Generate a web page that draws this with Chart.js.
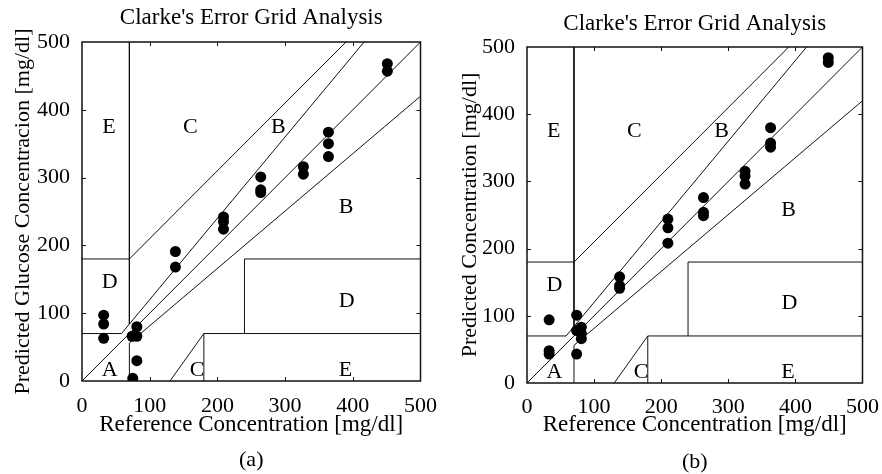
<!DOCTYPE html>
<html><head><meta charset="utf-8">
<script src="https://cdn.jsdelivr.net/npm/chart.js@4/dist/chart.umd.min.js"></script>
<style>
html,body{margin:0;padding:0;background:#fff;overflow:hidden}
#wrap{position:relative;width:882px;height:474px;background:#fff}
canvas{position:absolute;top:0}
</style></head><body>
<div id="wrap">
<canvas id="ca" width="441" height="474" style="left:0"></canvas>
<canvas id="cb" width="441" height="474" style="left:441px"></canvas>
</div>
<script>
// ---------- text ----------
const chartTitle = "Clarke's Error Grid Analysis";
const xAxisLabel = "Reference Concentration [mg/dl]";
const yAxisLabelA = "Predicted Glucose Concentracion [mg/dl]";
const yAxisLabelB = "Predicted Concentration [mg/dl]";
const panelLabels = ["(a)", "(b)"];
const axisMin = 0, axisMax = 500, tickStep = 100;

// ---------- data: panel (a) ----------
const refA  = [32, 32, 32, 74, 81, 81, 81, 75, 138, 138, 209, 209, 209, 264, 264, 264, 327, 327, 364, 364, 364, 451, 451];
const predA = [97, 84, 63, 66, 80, 66, 30,  4, 191, 168, 242, 235, 224, 301, 282, 278, 316, 305, 367, 350, 331, 468, 457];

// ---------- data: panel (b) ----------
const refB  = [33, 33, 33, 74, 74, 74, 81, 81, 81, 138, 138, 138, 210, 210, 210, 263, 263, 263, 325, 325, 325, 363, 363, 363, 449, 449];
const predB = [94, 48, 43, 101, 78, 43, 83, 74, 66, 158, 145, 141, 244, 231, 208, 276, 254, 249, 315, 308, 296, 380, 357, 351, 484, 477];

// ---------- Clarke error grid zone boundaries (mg/dl) ----------
const zoneBoundaries = [
  [[0, 0], [500, 500]],
  [[0, 70], [58.33, 70], [416.67, 500]],
  [[70, 500], [70, 84]],
  [[0, 180], [70, 180], [390, 500]],
  [[70, 0], [70, 56], [500, 420]],
  [[130, 0], [180, 70], [500, 70]],
  [[180, 0], [180, 70]],
  [[240, 70], [240, 180], [500, 180]]
];
const zoneNames = ["E", "C", "B", "B", "D", "D", "A", "C", "E"];
const zoneNameRef  = [40, 160, 290, 390, 41, 391, 41, 170, 389];
const zoneNamePred = [375, 375, 375, 257, 146, 118, 16, 16, 16];

const FONT = "'Liberation Serif', 'Times New Roman', serif";

const decor = {
  id: 'decor',
  afterDatasetsDraw(chart, args, o) {
    const {ctx, chartArea: a, scales: {x, y}} = chart;
    ctx.save();
    ctx.fillStyle = '#000';
    ctx.font = '22px ' + FONT;
    ctx.textAlign = 'center';
    ctx.textBaseline = 'middle';
    zoneNames.forEach((t, i) => {
      ctx.fillText(t, x.getPixelForValue(zoneNameRef[i]), y.getPixelForValue(zoneNamePred[i]));
    });
    // frame
    ctx.strokeStyle = '#111';
    ctx.lineWidth = 1.5;
    ctx.strokeRect(a.left, a.top, a.right - a.left, a.bottom - a.top);
    // inward tick marks
    ctx.lineWidth = 1;
    ctx.beginPath();
    x.ticks.forEach(t => {
      if (t.value <= axisMin || t.value >= axisMax) return;
      const px = Math.round(x.getPixelForValue(t.value)) + 0.5;
      ctx.moveTo(px, a.bottom); ctx.lineTo(px, a.bottom - 4);
      ctx.moveTo(px, a.top); ctx.lineTo(px, a.top + 4);
    });
    y.ticks.forEach(t => {
      if (t.value <= axisMin || t.value >= axisMax) return;
      const py = Math.round(y.getPixelForValue(t.value)) + 0.5;
      ctx.moveTo(a.left, py); ctx.lineTo(a.left + 4, py);
      ctx.moveTo(a.right, py); ctx.lineTo(a.right - 4, py);
    });
    ctx.stroke();
    // title and panel label
    const cx = (a.left + a.right) / 2;
    ctx.textBaseline = 'alphabetic';
    ctx.font = '23px ' + FONT;
    ctx.fillText(o.title, cx, o.titleY);
    ctx.font = '22px ' + FONT;
    ctx.fillText(o.panel, cx, o.panelY);
    ctx.restore();
  }
};

function makeChart(id, ref, pred, yLabel, panel, geo) {
  const datasets = zoneBoundaries.map(seg => ({
    type: 'scatter',
    data: seg.map(p => ({x: p[0], y: p[1]})),
    showLine: true,
    borderColor: '#111',
    borderWidth: 1,
    pointRadius: 0,
    fill: false,
    order: 2
  }));
  datasets.push({
    type: 'scatter',
    data: ref.map((v, i) => ({x: v, y: pred[i]})),
    backgroundColor: '#000',
    borderColor: '#000',
    pointRadius: 5.5,
    borderWidth: 0,
    order: 1
  });
  return new Chart(document.getElementById(id), {
    type: 'scatter',
    data: {datasets},
    plugins: [decor],
    options: {
      responsive: false,
      devicePixelRatio: 1,
      animation: false,
      events: [],
      layout: {padding: {top: geo.top, right: geo.right, left: 0, bottom: 0}},
      plugins: {
        legend: {display: false},
        tooltip: {enabled: false},
        decor: {title: chartTitle, panel: panel, titleY: geo.titleY, panelY: geo.panelY}
      },
      scales: {
        x: {
          type: 'linear', min: axisMin, max: axisMax,
          grid: {display: false}, border: {display: false},
          ticks: {stepSize: tickStep, maxRotation: 0, autoSkip: false, padding: geo.xPad,
                  color: '#000', font: {family: FONT, size: 22}},
          title: {display: true, text: xAxisLabel, color: '#000',
                  font: {family: FONT, size: 23}, padding: {top: 0, bottom: geo.xTitlePad}},
          afterFit: s => { s.height = geo.xh; }
        },
        y: {
          type: 'linear', min: axisMin, max: axisMax,
          grid: {display: false}, border: {display: false},
          ticks: {stepSize: tickStep, padding: 4, color: '#000', font: {family: FONT, size: 22}},
          title: {display: true, text: yLabel, color: '#000',
                  font: {family: FONT, size: 22}, padding: {top: geo.yTitlePad, bottom: 0}},
          afterFit: s => { s.width = geo.yw; }
        }
      }
    }
  });
}

makeChart('ca', refA, predA, yAxisLabelA, panelLabels[0],
  {top: 42, right: 20, yw: 82, xh: 93, xPad: 4, xTitlePad: 35, yTitlePad: 10, titleY: 24, panelY: 466});
makeChart('cb', refB, predB, yAxisLabelB, panelLabels[1],
  {top: 47, right: 19, yw: 86, xh: 91, xPad: 3, xTitlePad: 35, yTitlePad: 16, titleY: 30, panelY: 468});
</script>
</body></html>
